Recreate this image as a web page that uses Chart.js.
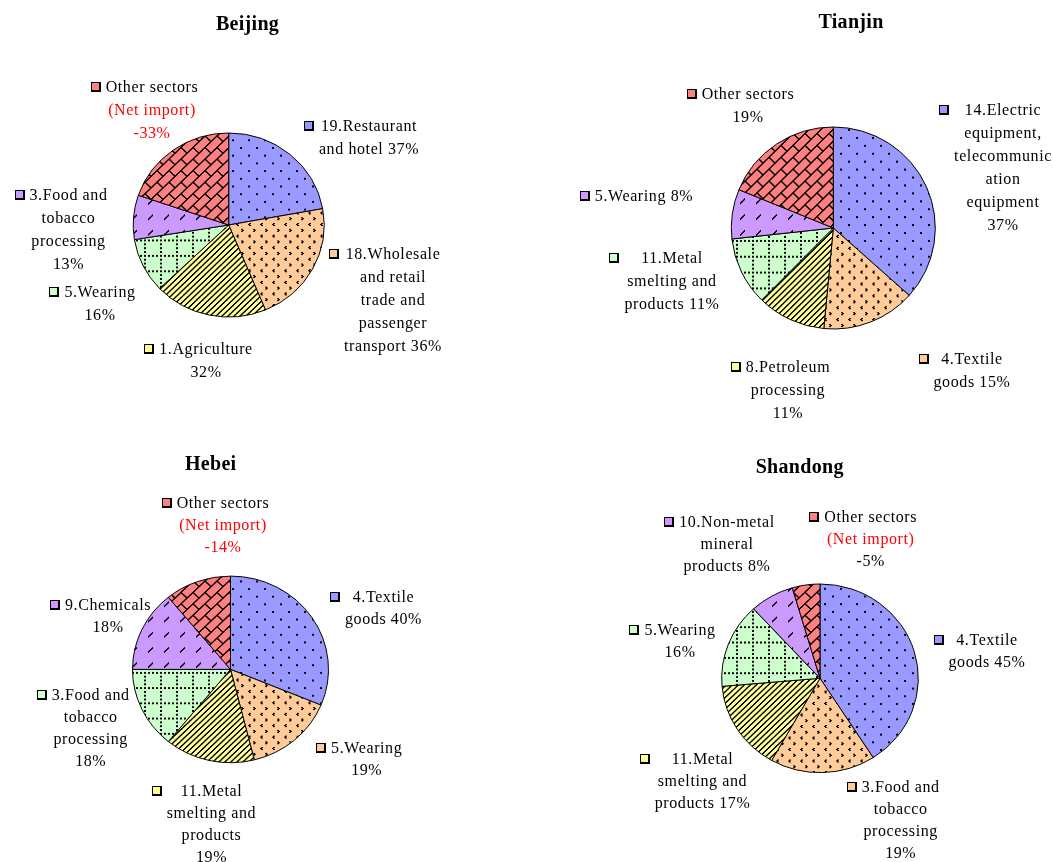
<!DOCTYPE html>
<html>
<head>
<meta charset="utf-8">
<script src="https://cdn.jsdelivr.net/npm/chart.js@4.4.1/dist/chart.umd.min.js"></script>
<style>
  html, body { margin: 0; padding: 0; background: #fff; }
  #wrap { position: relative; width: 1053px; height: 862px; overflow: hidden; background: #fff; }
  #wrap canvas { position: absolute; left: 0; top: 0; }
</style>
</head>
<body>
<div id="wrap">
  <canvas id="beijing" width="1053" height="862"></canvas>
  <canvas id="tianjin" width="1053" height="862"></canvas>
  <canvas id="hebei" width="1053" height="862"></canvas>
  <canvas id="shandong" width="1053" height="862"></canvas>
</div>
<script>
// Sector names (with the line breaks used in the printed labels) and shares in %.
// A negative share is a net import; the slice is drawn from its absolute size.
const beijingSectors = ['19.Restaurant\nand hotel', '18.Wholesale\nand retail\ntrade and\npassenger\ntransport', '1.Agriculture', '5.Wearing', '3.Food and\ntobacco\nprocessing', 'Other sectors'];
const beijingShares = [37, 36, 32, 16, 13, -33];

const tianjinSectors = ['14.Electric\nequipment,\ntelecommunic\nation\nequipment', '4.Textile\ngoods', '8.Petroleum\nprocessing', '11.Metal\nsmelting and\nproducts', '5.Wearing', 'Other sectors'];
const tianjinShares = [37, 15, 11, 11, 8, 19];

const hebeiSectors = ['4.Textile\ngoods', '5.Wearing', '11.Metal\nsmelting and\nproducts', '3.Food and\ntobacco\nprocessing', '9.Chemicals', 'Other sectors'];
const hebeiShares = [40, 19, 19, 18, 18, -14];

const shandongSectors = ['4.Textile\ngoods', '3.Food and\ntobacco\nprocessing', '11.Metal\nsmelting and\nproducts', '5.Wearing', '10.Non-metal\nmineral\nproducts', 'Other sectors'];
const shandongShares = [45, 19, 17, 16, 8, -5];

const W = 1053, H = 862;
const FONT = '"Liberation Serif", "Times New Roman", serif';

// Per-province page layout: title, pie centre and radii, label anchors
// (centre x, first-line middle y, value on its own line).
const layouts = {
  beijing: {
    title: 'Beijing', titlePos: [247.5, 29.5], center: [228.7, 225], rx: 95.5, ry: 92, lineH: 23, netColor: '#FF0000',
    labels: [[369, 126, false], [393, 254, false], [206, 349, true], [100, 292, true], [68.5, 195, true], [152, 87, true]]
  },
  tianjin: {
    title: 'Tianjin', titlePos: [851, 28], center: [833.3, 228], rx: 102, ry: 101, lineH: 23, netColor: '#FF0000',
    labels: [[1003, 110, true], [972, 359, false], [788, 367, true], [672, 258, false], [644, 196, false], [748, 94, true]]
  },
  hebei: {
    title: 'Hebei', titlePos: [210.7, 470], center: [230.5, 669.4], rx: 98, ry: 93.3, lineH: 22, netColor: '#FF0000',
    labels: [[383.5, 597, false], [366.7, 748, true], [211.5, 791, true], [90.7, 695, true], [108, 605, true], [223, 503, true]]
  },
  shandong: {
    title: 'Shandong', titlePos: [799.7, 473], center: [820, 678.3], rx: 98.3, ry: 94.3, lineH: 22, netColor: '#000000',
    labels: [[987, 640, false], [900.7, 787, true], [702.5, 759, false], [680, 630, true], [727, 522, false], [870.7, 517, true]]
  }
};

// Fill colours and hatch patterns, by slice position.
const sliceColors = ['#9999FF', '#FFCC99', '#FFFF99', '#CCFFCC', '#CC99FF', '#FF8080'];
const mod = (a, n) => ((a % n) + n) % n;

// Small chevron marks ">" and "<".
const divotPts = new Set();
[[1, 1], [2, 1], [2, 2], [3, 2], [1, 3], [2, 3]].forEach(([x, y]) => divotPts.add(x + ',' + y));   // ">"
[[9, 7], [10, 7], [8, 8], [9, 8], [9, 9], [10, 9]].forEach(([x, y]) => divotPts.add(x + ',' + y)); // "<"

const hatchDefs = [
  [16, (x, y) => (x < 2 && y < 2) || (mod(x - 8, 16) < 2 && mod(y - 8, 16) < 2)],           // sparse dots
  [12, (x, y) => divotPts.has(x + ',' + y)],                                                   // small chevrons
  [6,  (x, y) => mod(x + y, 6) < 2],                                                           // upward diagonal
  [16, (x, y) => (y < 2 && mod(x, 4) < 2) || (x < 2 && mod(y, 4) < 2)],                      // dotted grid
  [16, (x, y) => (x + y === 14 || x + y === 15) && x >= 4 && x <= 8],                         // dashed diagonal
  [24, (x, y) => {                                                                              // diagonal brick
    const u = x + y, v = x - y;
    const band = Math.floor(mod(u, 24) / 12);
    return mod(u, 12) < 2 || mod(v - band * 12, 24) < 2;
  }]
];

const baseCtx = document.getElementById('beijing').getContext('2d');
const patterns = hatchDefs.map(([size, on], i) => {
  const c = document.createElement('canvas');
  c.width = c.height = size;
  const g = c.getContext('2d');
  g.fillStyle = sliceColors[i];
  g.fillRect(0, 0, size, size);
  g.fillStyle = '#000';
  for (let y = 0; y < size; y++) for (let x = 0; x < size; x++) if (on(x, y)) g.fillRect(x, y, 1, 1);
  return baseCtx.createPattern(c, 'repeat');
});

const provinceData = {
  beijing: [beijingSectors, beijingShares],
  tianjin: [tianjinSectors, tianjinShares],
  hebei: [hebeiSectors, hebeiShares],
  shandong: [shandongSectors, shandongShares]
};

// Draws the pie slightly flattened, then the title and the keyed labels.
const provincePlugin = {
  id: 'provinceLabels',
  beforeDatasetsDraw(chart) {
    const lay = layouts[chart.canvas.id];
    const arc = chart.getDatasetMeta(0).data[0];
    const ctx = chart.ctx;
    ctx.save();
    ctx.translate(arc.x, arc.y);
    ctx.scale(1, lay.ry / lay.rx);
    ctx.translate(-arc.x, -arc.y);
  },
  afterDatasetsDraw(chart) {
    chart.ctx.restore();
  },
  afterDraw(chart) {
    const id = chart.canvas.id;
    const lay = layouts[id];
    const [sectors, shares] = provinceData[id];
    const ctx = chart.ctx;
    ctx.save();
    ctx.textAlign = 'center';
    ctx.textBaseline = 'alphabetic';
    ctx.fillStyle = '#000';
    ctx.font = 'bold 20px ' + FONT;
    ctx.letterSpacing = '0.3px';
    ctx.fillText(lay.title, lay.titlePos[0], lay.titlePos[1]);

    ctx.font = '16px ' + FONT;
    ctx.letterSpacing = '0.6px';
    sectors.forEach((name, i) => {
      const v = shares[i];
      const [lx, ly, ownLine] = lay.labels[i];
      const lines = name.split('\n').map(t => ({ t, c: '#000' }));
      const pct = v + '%';
      if (v < 0) {
        lines.push({ t: '(Net import)', c: '#FF0000' });
        lines.push({ t: pct, c: lay.netColor });
      } else if (ownLine) {
        lines.push({ t: pct, c: '#000' });
      } else {
        lines[lines.length - 1].t += ' ' + pct;
      }
      const maxW = Math.max(...lines.map(l => ctx.measureText(l.t).width));
      lines.forEach((l, k) => {
        ctx.fillStyle = l.c;
        ctx.fillText(l.t, lx, ly + k * lay.lineH + 5);
      });
      const kx = Math.round(lx - maxW / 2 - 5 - 10);
      const ky = Math.round(ly - 5);
      ctx.fillStyle = sliceColors[i];
      ctx.fillRect(kx, ky, 10, 10);
      ctx.strokeStyle = '#000';
      ctx.lineWidth = 1;
      ctx.strokeRect(kx + 0.5, ky + 0.5, 9, 9);
      ctx.fillStyle = '#000';
      ctx.fillRect(kx + 1, ky + 8, 9, 1.2);
      ctx.fillRect(kx + 8, ky + 1, 1.2, 9);
    });
    ctx.restore();
  }
};

function buildPie(id) {
  const lay = layouts[id];
  const [sectors, shares] = provinceData[id];
  const [cx, cy] = lay.center;
  const r = lay.rx;
  return new Chart(document.getElementById(id), {
    type: 'pie',
    data: {
      labels: sectors,
      datasets: [{
        data: shares.map(Math.abs),
        backgroundColor: patterns,
        borderColor: '#000',
        borderWidth: 1,
        hoverOffset: 0,
        offset: 0
      }]
    },
    options: {
      responsive: false,
      devicePixelRatio: 1,
      animation: false,
      events: [],
      layout: {
        padding: {
          left: cx - r - 0.5,
          top: cy - r - 0.5,
          right: W - cx - r - 0.5,
          bottom: H - cy - r - 0.5
        }
      },
      plugins: {
        legend: { display: false },
        tooltip: { enabled: false },
        title: { display: false }
      }
    },
    plugins: [provincePlugin]
  });
}

['beijing', 'tianjin', 'hebei', 'shandong'].forEach(buildPie);
</script>
</body>
</html>
